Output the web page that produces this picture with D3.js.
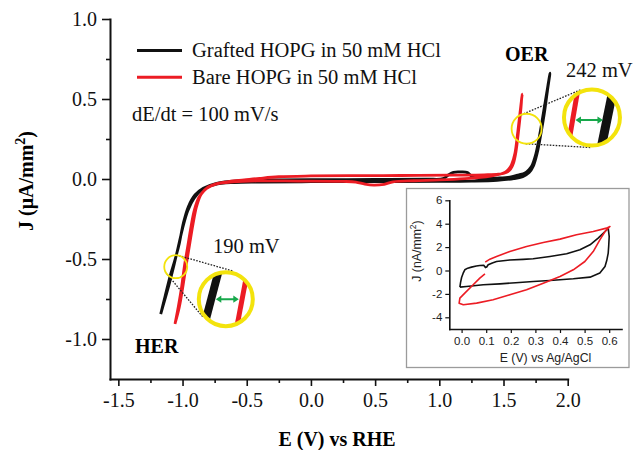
<!DOCTYPE html>
<html>
<head>
<meta charset="utf-8">
<script src="https://cdn.jsdelivr.net/npm/d3@7"></script>
<style>
  body { margin: 0; background: #fff; }
  svg { display: block; }
</style>
</head>
<body>
<svg id="chart" width="636" height="450"></svg>
<script>
// ---------- data ----------
const seriesNames = ["Grafted HOPG in 50 mM HCl", "Bare HOPG in 50 mM HCl"];
const xTicks = [-1.5, -1.0, -0.5, 0.0, 0.5, 1.0, 1.5, 2.0];
const xMinorTicks = [-1.25, -0.75, -0.25, 0.25, 0.75, 1.25, 1.75];
const yTicks = [1.0, 0.5, 0.0, -0.5, -1.0];
const yMinorTicks = [0.75, 0.25, -0.25, -0.75];

// Cyclic voltammograms, E (V vs RHE) vs J (uA/mm^2): anodic sweep then return sweep
const graftedForward = [
  [-1.170,-0.844],[-1.137,-0.736],[-1.098,-0.611],[-1.059,-0.506],[-1.025,-0.402],[-0.994,-0.277],
  [-0.955,-0.173],[-0.903,-0.100],[-0.838,-0.058],[-0.734,-0.027],[-0.553,-0.011],[-0.30,-0.006],
  [0.00,-0.004],[0.50,-0.003],[0.90,-0.001],[1.03,0.002],[1.07,0.025],[1.11,0.042],[1.17,0.044],
  [1.22,0.040],[1.26,0.012],[1.35,0.004],[1.45,0.006],[1.55,0.012],[1.62,0.026],[1.667,0.038],
  [1.700,0.060],[1.719,0.080],[1.753,0.161],[1.784,0.286],[1.810,0.410],[1.836,0.536],[1.862,0.661]
];
const graftedReverse = [
  [1.862,0.661],[1.842,0.550],[1.818,0.410],[1.792,0.286],[1.762,0.161],[1.732,0.080],[1.700,0.040],
  [1.65,0.015],[1.58,0.002],[1.45,-0.008],[1.25,-0.013],[1.0,-0.015],[0.5,-0.016],[0.0,-0.017],
  [-0.4,-0.019],[-0.6,-0.022],[-0.75,-0.035],[-0.85,-0.068],[-0.91,-0.120],[-0.96,-0.200],
  [-1.0,-0.310],[-1.035,-0.430],[-1.07,-0.550],[-1.105,-0.660],[-1.14,-0.760],[-1.170,-0.844]
];
const bareForward = [
  [-1.059,-0.906],[-1.033,-0.798],[-1.007,-0.673],[-0.986,-0.548],[-0.960,-0.423],[-0.934,-0.298],
  [-0.908,-0.194],[-0.870,-0.111],[-0.812,-0.058],[-0.734,-0.031],[-0.605,-0.018],[-0.422,-0.012],
  [-0.10,-0.013],[0.25,-0.015],[0.35,-0.019],[0.42,-0.032],[0.49,-0.038],[0.57,-0.033],[0.64,-0.018],
  [0.80,-0.011],[1.00,-0.006],[1.20,0.002],[1.32,0.010],[1.40,0.018],[1.447,0.025],[1.50,0.038],
  [1.525,0.050],[1.548,0.070],[1.563,0.090],[1.589,0.161],[1.610,0.286],[1.628,0.410],[1.646,0.531]
];
const bareReverse = [
  [1.646,0.531],[1.632,0.410],[1.615,0.286],[1.597,0.170],[1.578,0.100],[1.555,0.062],[1.52,0.040],
  [1.46,0.030],[1.35,0.026],[1.1,0.024],[0.7,0.022],[0.3,0.021],[0.0,0.019],[-0.25,0.014],
  [-0.40,0.004],[-0.52,-0.006],[-0.64,-0.016],[-0.74,-0.030],[-0.80,-0.050],[-0.855,-0.095],
  [-0.89,-0.170],[-0.918,-0.280],[-0.945,-0.410],[-0.972,-0.540],[-0.997,-0.670],[-1.025,-0.800],
  [-1.059,-0.906]
];

// Inset: double-layer region, E (V vs Ag/AgCl) vs J (nA/mm^2)
const insetXTicks = [0.0, 0.1, 0.2, 0.3, 0.4, 0.5, 0.6];
const insetYTicks = [6, 4, 2, 0, -2, -4];
const insetGraftedForward = [
  [-0.007,-1.42],[-0.004,-1.0],[0.0,-0.6],[0.006,-0.25],[0.013,0.06],[0.025,0.20],[0.04,0.29],
  [0.06,0.38],[0.074,0.43],[0.09,0.45],[0.097,0.25],[0.102,0.30],[0.108,0.49],[0.125,0.65],
  [0.142,0.77],[0.196,0.90],[0.25,0.95],[0.291,1.0],[0.359,1.2],[0.427,1.43],[0.481,1.77],
  [0.522,2.2],[0.555,2.77],[0.583,3.33],[0.596,3.62]
];
const insetGraftedReverse = [
  [0.596,3.62],[0.600,2.9],[0.598,2.1],[0.596,1.49],[0.590,0.85],[0.583,0.34],[0.562,-0.22],
  [0.522,-0.57],[0.454,-0.71],[0.359,-0.85],[0.291,-0.94],[0.22,-1.05],[0.156,-1.14],
  [0.088,-1.22],[0.02,-1.37],[-0.007,-1.42]
];
const insetBareCathodic = [
  [0.095,-0.28],[0.074,-0.65],[0.047,-1.22],[0.013,-1.93],[-0.007,-2.36],[-0.01,-2.79]
];
const insetBareForward = [
  [-0.01,-2.79],[0.007,-2.93],[0.061,-2.79],[0.128,-2.5],[0.196,-2.08],[0.264,-1.65],[0.332,-1.08],
  [0.4,-0.51],[0.454,0.06],[0.501,0.77],[0.535,1.62],[0.562,2.62],[0.583,3.33],[0.603,3.76]
];
const insetBareReverse = [
  [0.603,3.76],[0.589,3.62],[0.535,3.33],[0.467,3.05],[0.4,2.68],[0.332,2.39],[0.264,2.05],
  [0.196,1.62],[0.142,1.2],[0.115,0.97],[0.096,0.72]
];

// Onset shifts highlighted with magnifier callouts
const shiftLabels = ["190 mV", "242 mV"];
const regionLabels = ["HER", "OER"];
const sweepRate = "dE/dt = 100 mV/s";

// ---------- drawing ----------
const BLACK = "#111111", RED = "#ec1c24", YELLOW = "#f3e30c", GREEN = "#17a84b";
const SERIF = "'Liberation Serif','Times New Roman',serif";
const SANS = "'Liberation Sans',Arial,sans-serif";

const svg = d3.select("#chart");
const x = d3.scaleLinear().domain([-1.565, 2.0]).range([110, 567.7]);
const y = d3.scaleLinear().domain([-1.25, 1.0]).range([379, 19]);
const fmt1 = d => d.toFixed(1);

// axes
const gx = svg.append("g").attr("transform", `translate(0,${y(-1.25)})`);
gx.call(d3.axisBottom(x).tickValues(xTicks).tickSize(7).tickSizeOuter(0).tickPadding(7).tickFormat(fmt1));
const gxm = gx.append("g").call(d3.axisBottom(x).tickValues(xMinorTicks).tickSize(4).tickFormat(""));
gxm.select(".domain").remove();

const gy = svg.append("g").attr("transform", `translate(${x(-1.565)},0)`);
gy.call(d3.axisLeft(y).tickValues(yTicks).tickSize(8).tickSizeOuter(0).tickPadding(5).tickFormat(fmt1));
const gym = gy.append("g").call(d3.axisLeft(y).tickValues(yMinorTicks).tickSize(4).tickFormat(""));
gym.select(".domain").remove();

[gx, gy].forEach(g => {
  g.selectAll(".domain").attr("stroke", BLACK).attr("stroke-width", 2).attr("stroke-linecap", "square");
  g.selectAll(".tick line").attr("stroke", BLACK).attr("stroke-width", 1.6);
  g.selectAll(".tick text").attr("fill", BLACK).style("font-family", SERIF).style("font-size", "20px");
});

// axis titles
svg.append("text")
  .attr("x", 337).attr("y", 446).attr("text-anchor", "middle")
  .style("font-family", SERIF).style("font-size", "20px").style("font-weight", "bold")
  .text("E (V) vs RHE");
const yTitle = svg.append("text")
  .attr("transform", "translate(33,181) rotate(-90)").attr("text-anchor", "middle")
  .style("font-family", SERIF).style("font-size", "20px").style("font-weight", "bold");
yTitle.append("tspan").text("J (\u03BCA/mm");
yTitle.append("tspan").attr("dy", -8).style("font-size", "14px").text("2");
yTitle.append("tspan").attr("dy", 8).text(")");

// CV curves
const line = d3.line().x(d => x(d[0])).y(d => y(d[1])).curve(d3.curveCatmullRom.alpha(0.5));
const series = [
  { name: seriesNames[0], color: BLACK, pts: graftedForward.concat(graftedReverse.slice(1)) },
  { name: seriesNames[1], color: RED, pts: bareForward.concat(bareReverse.slice(1)) }
];
svg.append("g").selectAll("path").data(series).join("path")
  .attr("d", d => line(d.pts))
  .attr("fill", "none").attr("stroke", d => d.color)
  .attr("stroke-width", 2.8).attr("stroke-linejoin", "round");

// legend
const legend = svg.append("g");
series.forEach((s, i) => {
  const ly = 50.5 + i * 26.7;
  legend.append("line").attr("x1", 137).attr("x2", 182).attr("y1", ly).attr("y2", ly)
    .attr("stroke", s.color).attr("stroke-width", 3);
  legend.append("text").attr("x", 192).attr("y", ly + 6.5)
    .style("font-family", SERIF).style("font-size", "20.5px").attr("fill", BLACK).text(s.name);
});
svg.append("text").attr("x", 132).attr("y", 121)
  .style("font-family", SERIF).style("font-size", "20.5px").attr("fill", BLACK).text(sweepRate);

// region labels
svg.append("text").attr("x", 135).attr("y", 353)
  .style("font-family", SERIF).style("font-size", "20px").style("font-weight", "bold").text(regionLabels[0]);
svg.append("text").attr("x", 505).attr("y", 61)
  .style("font-family", SERIF).style("font-size", "20px").style("font-weight", "bold").text(regionLabels[1]);

// magnifier callouts: a small ring on the curves, tangent dotted guides, enlarged lens
const callouts = [
  { label: shiftLabels[0], spot: [-1.053, -0.548], spotR: 11.5, lens: [-0.663, -0.751], lensR: 27,
    text: [213, 253],
    bands: [ { color: BLACK, w: 8, a: [-7.5, -27], b: [-19, 16.7] },
             { color: RED,   w: 5, a: [20.5, -22], b: [12.5, 20] } ],
    arrow: [-10, 13, 0] },
  { label: shiftLabels[1], spot: [1.680, 0.314], spotR: 15, lens: [2.189, 0.384], lensR: 28,
    text: [566, 77],
    bands: [ { color: RED,   w: 5, a: [-15.5, -20], b: [-21, 12] },
             { color: BLACK, w: 9, a: [19.5, -20], b: [10.5, 24] } ],
    arrow: [-16.5, 11, 2.5] }
];

const defs = svg.append("defs");
callouts.forEach((c, i) => {
  const c1 = [x(c.spot[0]), y(c.spot[1])], c2 = [x(c.lens[0]), y(c.lens[1])];
  const r1 = c.spotR, r2 = c.lensR + 2;
  // external tangents between the two rings
  const dx = c2[0] - c1[0], dy = c2[1] - c1[1], D = Math.hypot(dx, dy);
  const th = Math.atan2(dy, dx), al = Math.acos((r1 - r2) / D);
  [th - al, th + al].forEach(a => {
    svg.append("line")
      .attr("x1", c1[0] + r1 * Math.cos(a)).attr("y1", c1[1] + r1 * Math.sin(a))
      .attr("x2", c2[0] + r2 * Math.cos(a)).attr("y2", c2[1] + r2 * Math.sin(a))
      .attr("stroke", "#222").attr("stroke-width", 1.3).attr("stroke-dasharray", "1.6,1.4");
  });
  svg.append("circle").attr("cx", c1[0]).attr("cy", c1[1]).attr("r", r1)
    .attr("fill", "none").attr("stroke", YELLOW).attr("stroke-width", 1.8);

  const clipId = "lens-clip-" + i;
  defs.append("clipPath").attr("id", clipId)
    .append("circle").attr("cx", c2[0]).attr("cy", c2[1]).attr("r", c.lensR);
  const lens = svg.append("g");
  lens.append("circle").attr("cx", c2[0]).attr("cy", c2[1]).attr("r", c.lensR).attr("fill", "#fff");
  const inner = lens.append("g").attr("clip-path", `url(#${clipId})`);
  c.bands.forEach(b => {
    const ux = b.b[0] - b.a[0], uy = b.b[1] - b.a[1];
    inner.append("line")
      .attr("x1", c2[0] + b.a[0] - ux) .attr("y1", c2[1] + b.a[1] - uy)
      .attr("x2", c2[0] + b.b[0] + ux) .attr("y2", c2[1] + b.b[1] + uy)
      .attr("stroke", b.color).attr("stroke-width", b.w);
  });
  // green double arrow
  const ax1 = c2[0] + c.arrow[0], ax2 = c2[0] + c.arrow[1], ay = c2[1] + c.arrow[2];
  inner.append("line").attr("x1", ax1 + 4).attr("x2", ax2 - 4).attr("y1", ay).attr("y2", ay)
    .attr("stroke", GREEN).attr("stroke-width", 2);
  inner.append("path")
    .attr("d", `M${ax1},${ay}l5.5,-3.6v7.2Z M${ax2},${ay}l-5.5,-3.6v7.2Z`)
    .attr("fill", GREEN);
  lens.append("circle").attr("cx", c2[0]).attr("cy", c2[1]).attr("r", c.lensR)
    .attr("fill", "none").attr("stroke", YELLOW).attr("stroke-width", 4);

  svg.append("text").attr("x", c.text[0]).attr("y", c.text[1])
    .style("font-family", SERIF).style("font-size", "20.5px").attr("fill", BLACK).text(c.label);
});

// ---------- inset ----------
const inset = svg.append("g");
inset.append("rect").attr("x", 406.5).attr("y", 188.5).attr("width", 222.5).attr("height", 179)
  .attr("fill", "#fff").attr("stroke", "#9b9b9b").attr("stroke-width", 1.3);
const ix = d3.scaleLinear().domain([-0.05, 0.65]).range([449.3, 621.5]);
const iy = d3.scaleLinear().domain([-5, 6]).range([329, 200.3]);

const igx = inset.append("g").attr("transform", `translate(0,${iy(-5)})`)
  .call(d3.axisBottom(ix).tickValues(insetXTicks).tickSize(4).tickSizeOuter(0).tickPadding(4).tickFormat(fmt1));
const igy = inset.append("g").attr("transform", `translate(${ix(-0.05)},0)`)
  .call(d3.axisLeft(iy).tickValues(insetYTicks).tickSize(4).tickSizeOuter(0).tickPadding(3).tickFormat(d => String(d)));
[igx, igy].forEach(g => {
  g.selectAll(".domain").attr("stroke", BLACK).attr("stroke-width", 1.6).attr("stroke-linecap", "square");
  g.selectAll(".tick line").attr("stroke", BLACK).attr("stroke-width", 1.2);
  g.selectAll(".tick text").attr("fill", "#222").style("font-family", SANS).style("font-size", "11.5px");
});
inset.append("text").attr("x", 545.5).attr("y", 362).attr("text-anchor", "middle")
  .style("font-family", SANS).style("font-size", "12.3px").attr("fill", "#222").text("E (V) vs Ag/AgCl");
const iyTitle = inset.append("text").attr("transform", "translate(421,251) rotate(-90)")
  .attr("text-anchor", "middle").style("font-family", SANS).style("font-size", "12.3px").attr("fill", "#222");
iyTitle.append("tspan").text("J (nA/mm");
iyTitle.append("tspan").attr("dy", -5).style("font-size", "8.5px").text("2");
iyTitle.append("tspan").attr("dy", 5).text(")");

const iline = d3.line().x(d => ix(d[0])).y(d => iy(d[1]));
const insetSeries = [
  { color: BLACK, pts: insetGraftedForward.concat(insetGraftedReverse.slice(1)) },
  { color: RED, pts: insetBareCathodic.concat(insetBareForward.slice(1), insetBareReverse.slice(1)) }
];
inset.append("g").selectAll("path").data(insetSeries).join("path")
  .attr("d", d => iline(d.pts)).attr("fill", "none")
  .attr("stroke", d => d.color).attr("stroke-width", 1.6).attr("stroke-linejoin", "round");
</script>
</body>
</html>
